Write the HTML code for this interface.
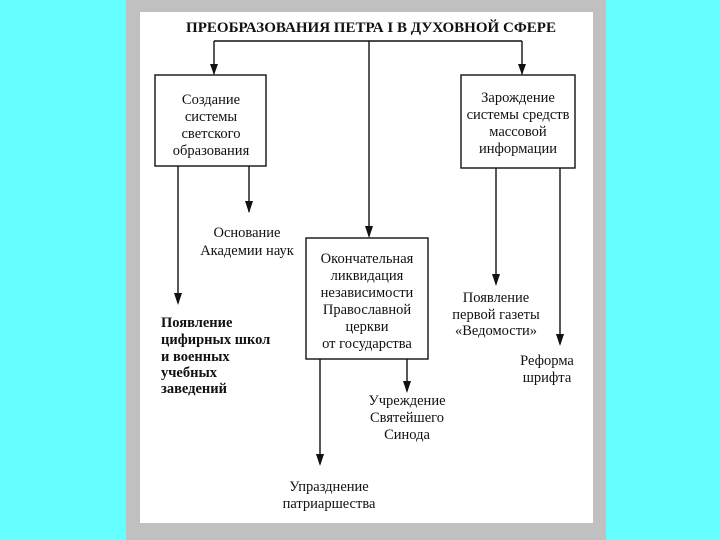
<!DOCTYPE html>
<html><head><meta charset="utf-8"><style>
html,body{margin:0;padding:0;width:720px;height:540px;overflow:hidden;background:#66ffff;}
svg{display:block}
text{font-family:"Liberation Serif","DejaVu Serif",serif;font-size:14.5px;fill:#111;}
</style></head><body>
<svg width="720" height="540" xmlns="http://www.w3.org/2000/svg">
<rect x="126" y="0" width="480" height="540" fill="#c0c0c0"/>
<rect x="140" y="12" width="453" height="511" fill="#fff"/>
<text x="186" y="32" textLength="370" lengthAdjust="spacingAndGlyphs" style="font-weight:bold;font-size:14.5px">ПРЕОБРАЗОВАНИЯ ПЕТРА I В ДУХОВНОЙ СФЕРЕ</text>
<g stroke="#111" stroke-width="1.4" fill="none">
<path d="M214 41 H522"/>
<path d="M214 41 V74"/><path d="M522 41 V74"/><path d="M369 41 V236"/>
<rect x="155" y="75" width="111" height="91"/>
<rect x="461" y="75" width="114" height="93"/>
<rect x="306" y="238" width="122" height="121"/>
<path d="M178 166 V303"/><path d="M249 166 V212"/>
<path d="M320 359 V464"/><path d="M407 359 V391"/>
<path d="M496 168 V284"/><path d="M560 168 V344"/>
</g>
<g fill="#111">
<path d="M210 64 L218 64 L214 75 Z"/><path d="M518 64 L526 64 L522 75 Z"/>
<path d="M365 226 L373 226 L369 238 Z"/>
<path d="M174 293 L182 293 L178 305 Z"/><path d="M245 201 L253 201 L249 213 Z"/>
<path d="M316 454 L324 454 L320 466 Z"/><path d="M403 381 L411 381 L407 393 Z"/>
<path d="M492 274 L500 274 L496 286 Z"/><path d="M556 334 L564 334 L560 346 Z"/>
</g>
<g text-anchor="middle">
<text x="211" y="104">Создание</text><text x="211" y="121">системы</text><text x="211" y="138">светского</text><text x="211" y="155">образования</text>
<text x="518" y="102">Зарождение</text><text x="518" y="119">системы средств</text><text x="518" y="136">массовой</text><text x="518" y="153">информации</text>
<text x="367" y="263">Окончательная</text><text x="367" y="280">ликвидация</text><text x="367" y="297">независимости</text><text x="367" y="314">Православной</text><text x="367" y="331">церкви</text><text x="367" y="348">от государства</text>
<text x="247" y="237">Основание</text><text x="247" y="255">Академии наук</text>
<text x="407" y="405">Учреждение</text><text x="407" y="422">Святейшего</text><text x="407" y="439">Синода</text>
<text x="329" y="491">Упразднение</text><text x="329" y="508">патриаршества</text>
<text x="496" y="302">Появление</text><text x="496" y="319">первой газеты</text><text x="496" y="335">«Ведомости»</text>
<text x="547" y="365">Реформа</text><text x="547" y="382">шрифта</text>
</g>
<g style="font-weight:600">
<text x="161" y="327">Появление</text><text x="161" y="344">цифирных школ</text><text x="161" y="361">и военных</text><text x="161" y="377">учебных</text><text x="161" y="393">заведений</text>
</g>
</svg>
</body></html>
